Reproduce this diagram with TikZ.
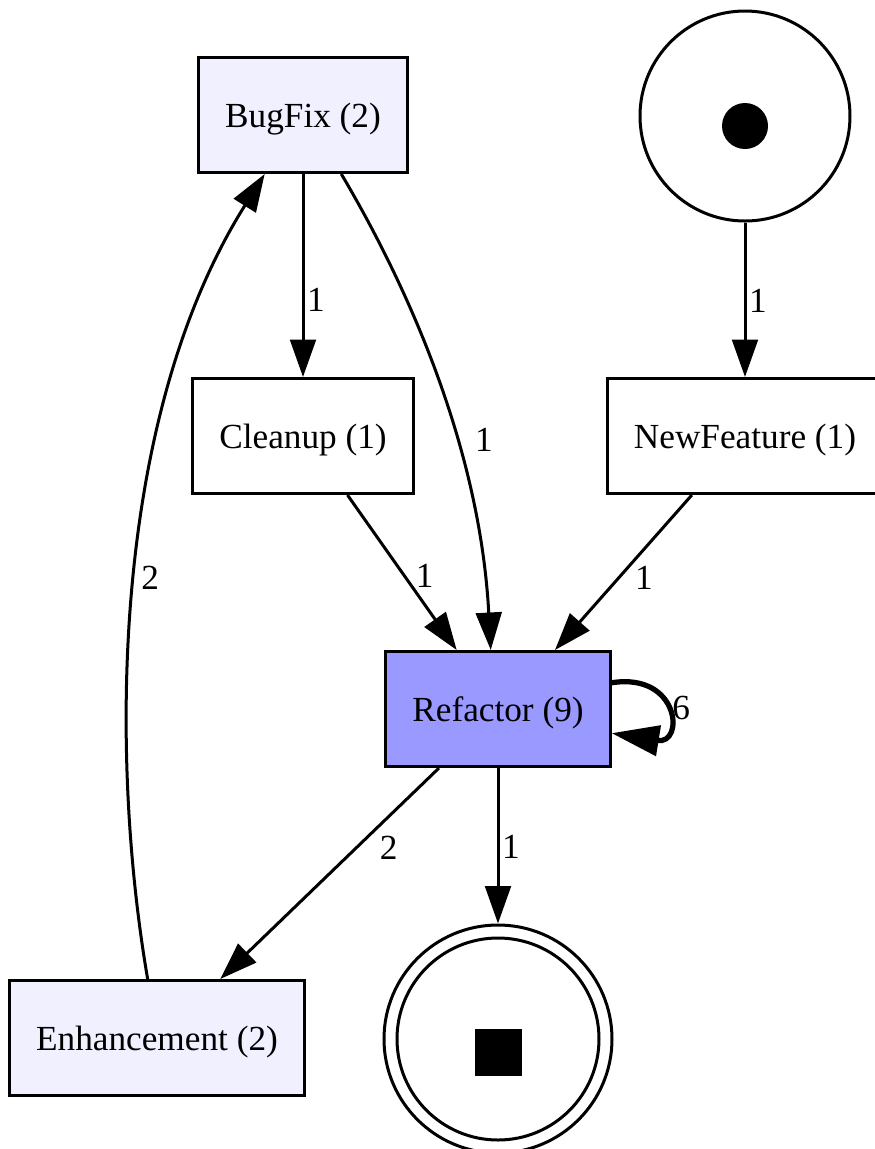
\documentclass[tikz,border=0pt]{standalone}
\usepackage{fontspec}
\setmainfont{Liberation Serif}
\usepackage{tikz}
\usetikzlibrary{
	arrows.meta
}

\definecolor{actlight}{HTML}{F0F0FF}
\definecolor{actdark}{HTML}{9999FF}

\tikzset{
	every node/.style={font=\fontsize{14.1}{17}\selectfont},
	act/.style={draw,rectangle,line width=1.2pt,minimum height=46pt,inner xsep=10.6pt,text height=10pt,text depth=0pt},
	rare/.style={act,fill=actlight},
	hot/.style={act,fill=actdark},
	place/.style={draw,circle,line width=1.2pt},
	flow/.style={line width=1.2pt,-{Triangle[length=15pt,width=10.3pt]}},
	selfflow/.style={line width=2.1pt,-{Triangle[length=19pt,width=12pt]}},
	lbl/.style={inner sep=1pt}
}

\begin{document}
\begin{tikzpicture}[x=0.4pt,y=-0.4pt]
		\useasboundingbox (0,0) rectangle (875,1149);

		\draw
			node[rare]                      (bugfix)     at (303,115)  {BugFix (2)}
			node[act]                       (cleanup)    at (303,436)  {Cleanup (1)}
			node[act]                       (newfeature) at (745,436)  {NewFeature (1)}
			node[hot]                       (refactor)   at (498,709)  {Refactor (9)}
			node[rare]                      (enhance)    at (157,1038) {Enhancement (2)}
			node[place,minimum size=84pt]   (start)      at (745,116)  {}
			node[place,minimum size=91.2pt] (finish)     at (498,1039) {}
		;

		% start and end marks
		\fill (start) ++(0,10) circle[radius=23];
		\draw[line width=1.2pt] (finish) circle[radius=101];
		\fill (finish) ++(-23.5,-10) rectangle ++(47,47);

		\draw[flow] (bugfix) -- node[lbl,pos=.62,right] {1} (cleanup);
		\draw[flow] (start) -- node[lbl,pos=.51,right] {1} (newfeature);
		\draw[flow] (cleanup.-53) -- node[lbl,pos=.52,right=3pt] {1} (refactor.125);
		\draw[flow] (newfeature.-132) -- node[lbl,pos=.535,right=5pt] {1} (refactor.46);
		\draw[flow] (bugfix.-57) .. controls (410,290) and (480,450) .. node[lbl,pos=.62,right=6pt] {1} (refactor.97);
		\draw[selfflow] (refactor.13) .. controls (680,672) and (685,745) .. node[lbl,pos=.5,right=1pt] {6} (refactor.-12);
		\draw[flow] (refactor.-135.5) -- node[lbl,pos=.38,right=8pt] {2} (enhance.43);
		\draw[flow] (refactor) -- node[lbl,pos=.51,right] {1} (finish);
		\draw[flow] (enhance.99.5) .. controls (110,760) and (110,420) .. node[lbl,pos=.51,right=1pt] {2} (bugfix.-123.7);
	\end{tikzpicture}
\end{document}
